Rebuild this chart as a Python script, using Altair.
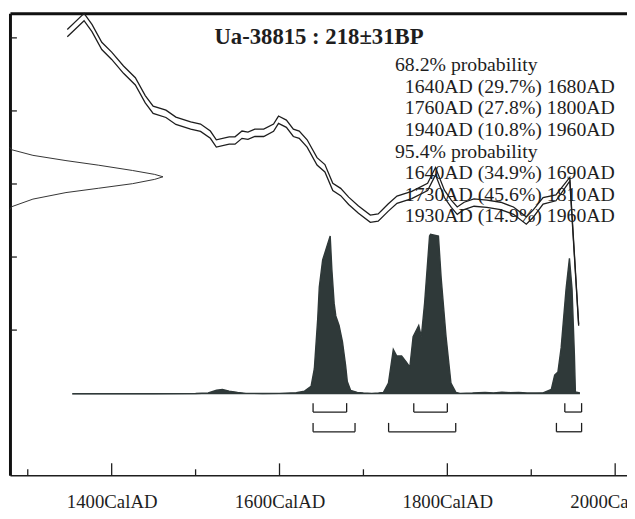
import altair as alt
import pandas as pd

# ---- calibration curve: calendar year AD, radiocarbon age BP, curve 1-sigma (BP)
curve_year = [1347.1, 1367.1, 1376.5, 1388.2, 1400.0, 1414.1, 1428.2, 1440.0, 1449.4, 1464.7,
              1476.5, 1494.1, 1505.9, 1517.6, 1524.7, 1540.0, 1547.0, 1555.3, 1562.4, 1570.6,
              1581.2, 1592.9, 1598.8, 1608.2, 1616.5, 1623.5, 1632.9, 1644.7, 1654.1, 1663.5,
              1672.9, 1682.4, 1694.1, 1708.2, 1717.6, 1729.4, 1740.0, 1757.6, 1776.5, 1785.9,
              1796.5, 1804.7, 1811.8, 1820.0, 1831.8, 1847.1, 1863.5, 1878.8, 1894.1, 1902.4,
              1914.1, 1929.4, 1945.9, 1956.5]
curve_bp = [613, 657, 627, 578, 551, 513, 481, 432, 403, 392,
            373, 360, 354, 335, 311, 319, 319, 335, 332, 340,
            340, 354, 376, 365, 340, 335, 311, 262, 243, 192,
            178, 154, 130, 105, 108, 135, 157, 170, 192, 235,
            173, 146, 127, 140, 149, 146, 140, 127, 100, 119,
            154, 162, 213, -186]
curve_err = [10, 10, 10, 10, 10, 10, 10, 10, 10, 10,
             10, 10, 10, 10, 10, 10, 10, 10, 10, 10,
             10, 10, 10, 10, 10, 10, 10, 10, 10, 10,
             10, 10, 10, 10, 10, 10, 10, 10, 10, 10,
             10, 10, 10, 10, 10, 10, 10, 10, 10, 10,
             9, 8, 5, 2]

# ---- measurement distribution (radiocarbon BP, relative density) drawn on the age axis
gauss_bp = [300, 293.8, 278.4, 264.0, 251.4, 237.0, 226.2, 219.7, 212.7, 200.8, 188.4, 176.5, 158.6, 137.8, 130]
gauss_dens = [0, 0.011, 0.15, 0.366, 0.58, 0.80, 0.946, 1.0, 0.946, 0.80, 0.58, 0.366, 0.15, 0.011, 0]

# ---- calibrated probability (year AD, relative probability, max = 100)
dist_year = [1353, 1400, 1450, 1500, 1515, 1525, 1532, 1540, 1550, 1560, 1580, 1600, 1620,
             1629.8, 1637.6, 1641.5, 1645.5, 1647.4, 1651.4, 1660.4, 1662.4, 1665.1, 1667.1,
             1671.0, 1675.0, 1678.8, 1680.8, 1684.7, 1692.6, 1700, 1710, 1718,
             1723.9, 1729.8, 1735.6, 1739.6, 1745.5, 1751.4, 1755.3, 1759.2, 1765.9, 1769.0,
             1772.9, 1778.8, 1780.0, 1789.4, 1792.6, 1798.5, 1804.3, 1810.2, 1815,
             1830, 1845, 1855, 1865, 1875, 1885, 1895, 1905, 1914.0, 1923.9, 1927.9, 1931.8,
             1935.6, 1941.5, 1945.5, 1948.6, 1951.4, 1952.6, 1958]
dist_prob = [0.3, 0.3, 0.3, 0.5, 0.8, 2.5, 3, 2, 1.2, 0.6, 0.5, 0.6, 1,
             2, 5, 16, 47, 67, 84, 99, 78, 57, 49,
             43, 33, 18, 8, 2.5, 1.2, 0.8, 0.6, 0.8,
             1.2, 7, 28, 24, 24, 20, 17, 36, 43, 36,
             57, 99, 100, 99, 73, 36, 7, 1.2, 0.6,
             0.8, 1.2, 0.9, 1.3, 1.0, 1.2, 0.8, 0.8, 0.9, 3, 12, 14,
             29, 66, 85, 66, 25, 1.5, 0.8]

# ---- ranges
range_level = ["68.2", "68.2", "68.2", "95.4", "95.4", "95.4"]
range_start = [1640, 1760, 1940, 1640, 1730, 1930]
range_end = [1680, 1800, 1960, 1690, 1810, 1960]

# ---- text
title_text = "Ua-38815 : 218±31BP"
text_lines = ["68.2% probability", "1640AD (29.7%) 1680AD", "1760AD (27.8%) 1800AD",
              "1940AD (10.8%) 1960AD", "95.4% probability", "1640AD (34.9%) 1690AD",
              "1730AD (45.6%) 1810AD", "1930AD (14.9%) 1960AD"]
text_kind = ["head", "range", "range", "range", "head", "range", "range", "range"]
text_row = [0, 1, 2, 3, 4, 5, 6, 7]

# ---- axes
x_major = [1400, 1600, 1800, 2000]
x_minor = [1300, 1500, 1700, 1900]
y_ticks = [600, 400, 200, 0, -200]

W, H = 625, 468
INK = "#1e1e1e"
FILL = "#2f3939"
SERIF = "Liberation Serif"
LH = 21.8       # text line height (px)
TXT_TOP = 59    # first text baseline (px below plot top)

xs = alt.Scale(domain=[1278.8, 2014.1], nice=False, zero=False)
ys = alt.Scale(domain=[-597.3, 667.6], nice=False, zero=False)
ps = alt.Scale(domain=[-50.6, 238.3], nice=False, zero=False)
gs = alt.Scale(domain=[0, W / 155.0], nice=False, zero=False)
rs = alt.Scale(domain=[-TXT_TOP / LH, (H - TXT_TOP) / LH], range=[0, H], nice=False, zero=False)

curve_df = pd.DataFrame({"year": curve_year, "bp": curve_bp, "err": curve_err})
dist_df = pd.DataFrame({"year": dist_year, "prob": dist_prob})
gauss_df = pd.DataFrame({"bp": gauss_bp, "dens": gauss_dens})
range_df = pd.DataFrame({"level": range_level, "start": range_start, "end": range_end})
text_df = pd.DataFrame({"line": text_lines, "kind": text_kind, "row": text_row})

x_axis = alt.Axis(values=x_major, labelExpr="datum.value + 'CalAD'", ticks=False, tickSize=0,
                  domainColor=INK, domainWidth=1.5, labelFont=SERIF, labelFontSize=19,
                  labelColor=INK, labelPadding=18, labelBaseline="top", labelFlush=False,
                  labelOverlap=False, grid=False, title=None)
y_axis = alt.Axis(orient="left", ticks=False, labels=False, domainColor="#111", domainWidth=3,
                  grid=False, title=None)
top_axis = alt.Axis(orient="top", ticks=False, labels=False, domainColor="#111", domainWidth=3,
                    grid=False, title=None)

curve = alt.Chart(curve_df).transform_calculate(
    upper="datum.bp + datum.err", lower="datum.bp - datum.err"
).transform_fold(["upper", "lower"], as_=["edge", "age"]).mark_line(
    color=INK, strokeWidth=1.3
).encode(
    x=alt.X("year:Q", scale=xs, axis=x_axis),
    y=alt.Y("age:Q", scale=ys, axis=y_axis),
    detail="edge:N",
    order="year:Q",
)

dist = alt.Chart(dist_df).mark_area(
    color=FILL, opacity=1, fillOpacity=1, line={"color": FILL, "strokeWidth": 1.4}
).encode(
    x=alt.X("year:Q", scale=xs, axis=None),
    y=alt.Y("prob:Q", scale=ps, axis=None),
    y2=alt.datum(0),
)

gauss = alt.Chart(gauss_df).mark_line(color="#333", strokeWidth=1).encode(
    x=alt.X("dens:Q", scale=gs, axis=top_axis),
    y=alt.Y("bp:Q", scale=ys, axis=None),
    order="bp:Q",
)

ytick = alt.Chart(pd.DataFrame({"bp": y_ticks})).mark_rule(color=INK, strokeWidth=1.3).encode(
    y=alt.Y("bp:Q", scale=ys, axis=None), x=alt.value(0), x2=alt.value(7))
xmaj = alt.Chart(pd.DataFrame({"year": x_major})).mark_rule(color=INK, strokeWidth=1.3).encode(
    x=alt.X("year:Q", scale=xs, axis=None), y=alt.value(H), y2=alt.value(H - 12))
xmin = alt.Chart(pd.DataFrame({"year": x_minor})).mark_rule(color=INK, strokeWidth=1.3).encode(
    x=alt.X("year:Q", scale=xs, axis=None), y=alt.value(H), y2=alt.value(H - 6))

def brackets(level, ybar, ytop):
    base = alt.Chart(range_df).transform_filter(f"datum.level == '{level}'")
    h = base.mark_rule(color=INK, strokeWidth=1.3).encode(
        x=alt.X("start:Q", scale=xs, axis=None), x2="end:Q", y=alt.value(ybar))
    v = base.transform_fold(["start", "end"], as_=["side", "yr"]).mark_rule(
        color=INK, strokeWidth=1.3).encode(
        x=alt.X("yr:Q", scale=xs, axis=None), y=alt.value(ytop), y2=alt.value(ybar))
    return [h, v]

b68 = brackets("68.2", 404, 395)
b95 = brackets("95.4", 424, 415)

one = pd.DataFrame({"a": [0]})
title = alt.Chart(one).mark_text(
    text=title_text, font=SERIF, fontSize=23, fontWeight="bold", color=INK,
    align="center", baseline="alphabetic"
).encode(x=alt.value(313), y=alt.value(31))

def text_layer(kind, xpos):
    return alt.Chart(text_df).transform_filter(f"datum.kind == '{kind}'").mark_text(
        font=SERIF, fontSize=20, color=INK, align="left", baseline="alphabetic"
    ).encode(
        x=alt.value(xpos),
        y=alt.Y("row:Q", scale=rs, axis=None),
        text="line:N",
    )

heads = text_layer("head", 390)
rlines = text_layer("range", 400)

chart = alt.layer(
    dist, curve, gauss, ytick, xmaj, xmin, *b68, *b95, title, heads, rlines
).resolve_scale(x="independent", y="independent").properties(
    width=W, height=H,
    autosize=alt.AutoSizeParams(type="none"),
    padding={"left": 2, "top": 2, "right": 0, "bottom": 33},
    background="white",
).configure_view(stroke=None)

chart.save("out.html", embed_options={"renderer": "svg", "actions": False})
